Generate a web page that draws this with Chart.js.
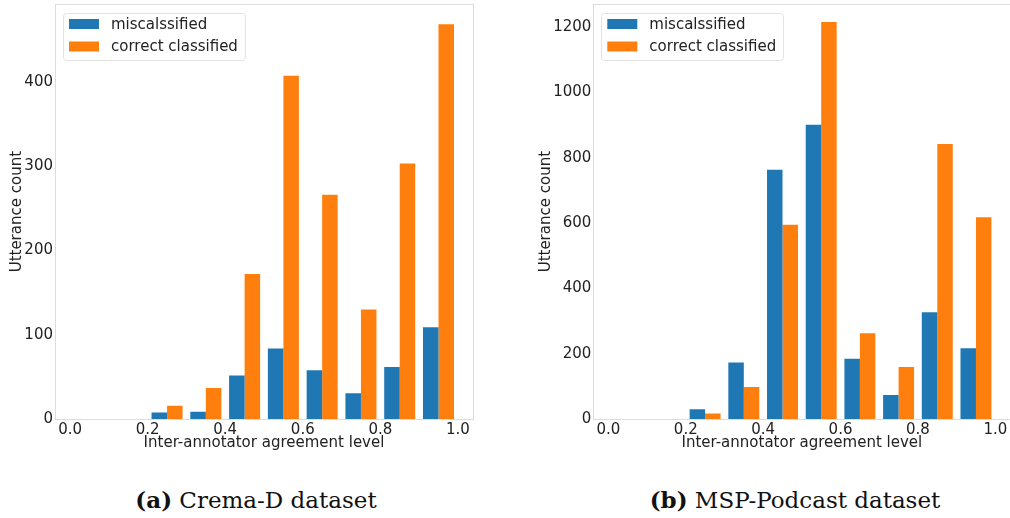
<!DOCTYPE html>
<html lang="en">
<head>
    <meta charset="UTF-8">
    <title>Inter-annotator agreement histograms</title>
    <script src="https://cdn.jsdelivr.net/npm/chart.js"></script>
    <style>
        body { margin: 0; background: white; width: 1010px; height: 518px; overflow: hidden; position: relative; font-family: "DejaVu Sans", sans-serif; }
        .panel { position: absolute; top: 0; height: 460px; }
        #panelA { left: 0; width: 480px; }
        #panelB { left: 520px; width: 500px; }
        .caption { position: absolute; top: 486px; font-family: "DejaVu Serif", serif; font-size: 23px; color: #111; white-space: nowrap; transform: translateX(-50%); }
        .caption b { font-weight: bold; }
    </style>
</head>
<body>
    <div class="panel" id="panelA"><canvas id="chartA"></canvas></div>
    <div class="panel" id="panelB"><canvas id="chartB"></canvas></div>
    <div class="caption" style="left: 256px;"><b>(a)</b> Crema-D dataset</div>
    <div class="caption" style="left: 795px;"><b>(b)</b> MSP-Podcast dataset</div>

    <script>
        // data (bin centres of 0.1-wide bins)
        const binCenters = [0.25, 0.35, 0.45, 0.55, 0.65, 0.75, 0.85, 0.95];
        const seriesNames = ['miscalssified', 'correct classified'];

        const cremaMis = [8, 9, 52, 84, 58, 31, 62, 109];
        const cremaCorrect = [16, 37, 172, 407, 266, 130, 303, 468];

        const mspMis = [31, 174, 763, 901, 185, 74, 327, 217];
        const mspCorrect = [18, 99, 595, 1215, 263, 160, 842, 618];

        const xTicks = [0.0, 0.2, 0.4, 0.6, 0.8, 1.0];
        const cremaYTicks = [0, 100, 200, 300, 400];
        const mspYTicks = [0, 200, 400, 600, 800, 1000, 1200];

        const BLUE = '#1f77b4';
        const ORANGE = '#ff7f0e';
        const FONT = '"DejaVu Sans"';
        const FSIZE = 15;
        const TEXT = '#222222';

        // legend drawn inside the plot area, top-left, like matplotlib
        const innerLegend = {
            id: 'innerLegend',
            afterDatasetsDraw(chart) {
                const { ctx, chartArea } = chart;
                ctx.save();
                ctx.font = FSIZE + 'px ' + FONT;
                const x0 = chartArea.left + 8;
                const y0 = chartArea.top + 9;
                const tw = Math.max(...chart.data.datasets.map(d => ctx.measureText(d.label).width));
                const w = 48 + tw + 7;
                const h = 47;
                ctx.fillStyle = 'rgba(255,255,255,0.8)';
                ctx.strokeStyle = '#e2e2e2';
                ctx.lineWidth = 1;
                ctx.beginPath();
                ctx.roundRect(Math.round(x0) + 0.5, Math.round(y0) + 0.5, w, h, 3);
                ctx.fill();
                ctx.stroke();
                chart.data.datasets.forEach((d, i) => {
                    const cy = y0 + 11 + i * 22.5;
                    ctx.fillStyle = d.backgroundColor;
                    ctx.fillRect(x0 + 6, cy - 5, 30, 10);
                    ctx.fillStyle = TEXT;
                    ctx.textBaseline = 'middle';
                    ctx.textAlign = 'left';
                    ctx.fillText(d.label, x0 + 48, cy + 1);
                });
                ctx.restore();
            }
        };

        // light frame around the axes
        const frame = {
            id: 'frame',
            afterDraw(chart) {
                const { ctx, chartArea } = chart;
                ctx.save();
                ctx.strokeStyle = '#dcdcdc';
                ctx.lineWidth = 1;
                ctx.strokeRect(Math.round(chartArea.left) + 0.5, Math.round(chartArea.top) + 0.5,
                    Math.round(chartArea.right - chartArea.left), Math.round(chartArea.bottom - chartArea.top));
                ctx.restore();
            }
        };

        function makeChart(id, mis, correct, yTicks, yMax, yWidth, yTitlePad, padRight) {
            const toPoints = vals => vals.map((v, i) => ({ x: binCenters[i], y: v }));
            return new Chart(document.getElementById(id), {
                type: 'bar',
                data: {
                    datasets: [
                        { label: seriesNames[0], data: toPoints(mis), backgroundColor: BLUE },
                        { label: seriesNames[1], data: toPoints(correct), backgroundColor: ORANGE }
                    ]
                },
                options: {
                    responsive: true,
                    maintainAspectRatio: false,
                    animation: false,
                    categoryPercentage: 0.8,
                    barPercentage: 1.0,
                    layout: { padding: { top: 4, right: padRight, left: 0, bottom: 0 } },
                    plugins: { legend: { display: false }, tooltip: { enabled: false } },
                    scales: {
                        x: {
                            type: 'linear',
                            offset: false,
                            min: -0.039,
                            max: 1.039,
                            grid: { display: false, drawTicks: false, offset: false },
                            border: { display: false },
                            afterBuildTicks: s => { s.ticks = xTicks.map(v => ({ value: v })); },
                            afterFit: s => { s.height = 40.7; s.paddingLeft = 0; s.paddingRight = 0; },
                            ticks: {
                                padding: 2,
                                color: TEXT,
                                font: { family: FONT, size: FSIZE },
                                callback: v => Number(v).toFixed(1),
                                maxRotation: 0,
                                autoSkip: false
                            },
                            title: {
                                display: true,
                                text: 'Inter-annotator agreement level',
                                color: TEXT,
                                font: { family: FONT, size: FSIZE },
                                padding: { top: 0, bottom: 8.3 }
                            }
                        },
                        y: {
                            min: 0,
                            max: yMax,
                            grid: { display: false, drawTicks: false },
                            border: { display: false },
                            afterBuildTicks: s => { s.ticks = yTicks.map(v => ({ value: v })); },
                            afterFit: s => { s.width = yWidth; s.paddingTop = 0; s.paddingBottom = 0; },
                            ticks: {
                                padding: 2,
                                color: TEXT,
                                font: { family: FONT, size: FSIZE },
                                callback: v => String(v)
                            },
                            title: {
                                display: true,
                                text: 'Utterance count',
                                color: TEXT,
                                font: { family: FONT, size: FSIZE },
                                padding: { top: yTitlePad, bottom: 0 }
                            }
                        }
                    }
                },
                plugins: [innerLegend, frame]
            });
        }

        makeChart('chartA', cremaMis, cremaCorrect, cremaYTicks, 492, 55, 7.7, 7);
        makeChart('chartB', mspMis, mspCorrect, mspYTicks, 1270, 73.3, 17.5, 9.6);
    </script>
</body>
</html>
